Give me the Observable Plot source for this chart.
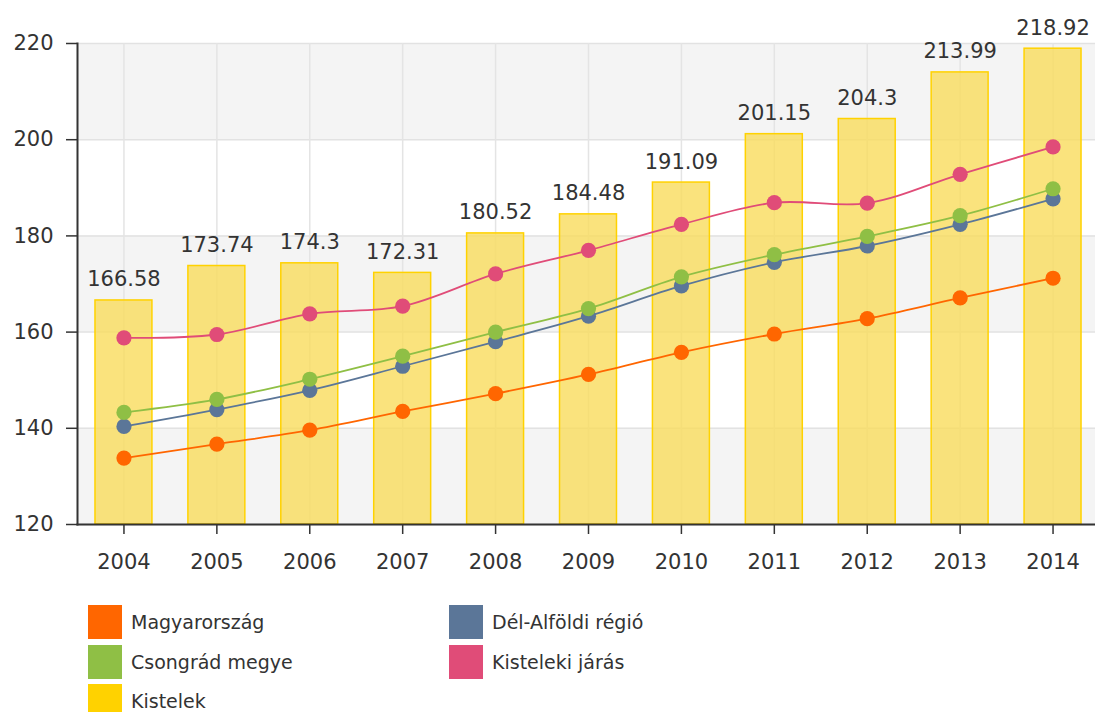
<!DOCTYPE html>
<html>
<head>
<meta charset="utf-8">
<script src="https://cdn.jsdelivr.net/npm/d3@7"></script>
<script src="https://cdn.jsdelivr.net/npm/@observablehq/plot@0.6"></script>
<style>
  body { margin: 0; background: #fff; font-family: "DejaVu Sans", Verdana, sans-serif; }
  #legend { position: relative; height: 117px; }
  .item { position: absolute; display: flex; align-items: center; font-size: 19px; color: #333; }
  .sw { width: 34px; height: 34px; margin-right: 9px; }
</style>
</head>
<body>
<div id="chart"></div>
<div id="legend"></div>
<script>
const years = ["2004","2005","2006","2007","2008","2009","2010","2011","2012","2013","2014"];
const kistelek = [166.58,173.74,174.3,172.31,180.52,184.48,191.09,201.15,204.3,213.99,218.92];
const magyarorszag = [133.8,136.7,139.6,143.5,147.2,151.2,155.8,159.6,162.8,167.1,171.2];
const delAlfoldi = [140.4,143.9,147.9,152.9,158.0,163.3,169.6,174.5,177.9,182.4,187.7];
const csongrad = [143.3,146.0,150.2,155.0,160.0,164.9,171.5,176.1,179.9,184.2,189.8];
const kisteleki = [158.8,159.5,163.8,165.4,172.1,177.0,182.4,186.9,186.8,192.8,198.5];
const yTicks = [120,140,160,180,200,220];
const bandRanges = [[120,140],[160,180],[200,220]];

const seriesNames = ["Magyarország","Dél-Alföldi régió","Csongrád megye","Kisteleki járás","Kistelek"];
const seriesColors = ["#ff6600","#5b7698","#8fbf45","#e04c78","#ffd200"];
const lineSeries = [magyarorszag, delAlfoldi, csongrad, kisteleki];

const bars = years.map((y,i) => ({year: y, value: kistelek[i]}));
const lines = [];
lineSeries.forEach((arr, s) => arr.forEach((v,i) => lines.push({series: seriesNames[s], year: years[i], value: v})));
const bands = bandRanges.map(([a,b]) => ({y1: a, y2: b}));

const colorScale = {domain: seriesNames, range: seriesColors};

const chart = Plot.plot({
  width: 1095,
  height: 595,
  marginLeft: 77,
  marginRight: 0,
  marginTop: 43,
  marginBottom: 71,
  style: {fontFamily: "DejaVu Sans, Verdana, sans-serif", fontSize: "21px", color: "#333", background: "#fff"},
  x: {domain: years, range: [77, 1099], paddingInner: 0.387, paddingOuter: 0.1935, round: false, label: null},
  y: {domain: [yTicks[0], yTicks[yTicks.length-1]], ticks: yTicks, label: null},
  color: colorScale,
  marks: [
    Plot.rect(bands, {y1: "y1", y2: "y2", fill: "#f4f4f4"}),
    Plot.ruleY(yTicks, {stroke: "#e2e2e2", strokeWidth: 1.5}),
    Plot.tickX(years, {x: d => d, stroke: "#e4e4e4", strokeWidth: 1.5}),
    Plot.barY(bars, {x: "year", y1: yTicks[0], y2: "value", fill: "#f9dc5c", fillOpacity: 0.8, stroke: "#ffd200", strokeWidth: 1.5}),
    Plot.text(bars, {x: "year", y: "value", text: d => String(d.value), dy: -14, lineAnchor: "bottom", fill: "#333", fontSize: 21}),
    Plot.line(lines, {x: "year", y: "value", z: "series", stroke: "series", strokeWidth: 1.8, curve: "catmull-rom"}),
    Plot.dot(lines, {x: "year", y: "value", fill: "series", r: 7.6}),
    Plot.axisY({ticks: yTicks, tickSize: 11, tickPadding: 13, stroke: "#333", strokeWidth: 1.5, label: null, fontSize: 21}),
    Plot.axisX({tickSize: 10, tickPadding: 20, stroke: "#333", strokeWidth: 1.5, label: null, fontSize: 21}),
    Plot.frame({anchor: "left", stroke: "#333", strokeWidth: 2}),
    Plot.frame({anchor: "bottom", stroke: "#333", strokeWidth: 2})
  ]
});
document.getElementById("chart").appendChild(chart);

const legendPos = [
  {name: "Magyarország", left: 88, top: 10},
  {name: "Dél-Alföldi régió", left: 449, top: 10},
  {name: "Csongrád megye", left: 88, top: 50},
  {name: "Kisteleki járás", left: 449, top: 50},
  {name: "Kistelek", left: 88, top: 89}
];
const legend = document.getElementById("legend");
legendPos.forEach(p => {
  const i = seriesNames.indexOf(p.name);
  const div = document.createElement("div");
  div.className = "item";
  div.style.left = p.left + "px";
  div.style.top = p.top + "px";
  const sw = document.createElement("div");
  sw.className = "sw";
  sw.style.background = seriesColors[i];
  const t = document.createElement("span");
  t.textContent = p.name;
  div.appendChild(sw); div.appendChild(t);
  legend.appendChild(div);
});
</script>
</body>
</html>
